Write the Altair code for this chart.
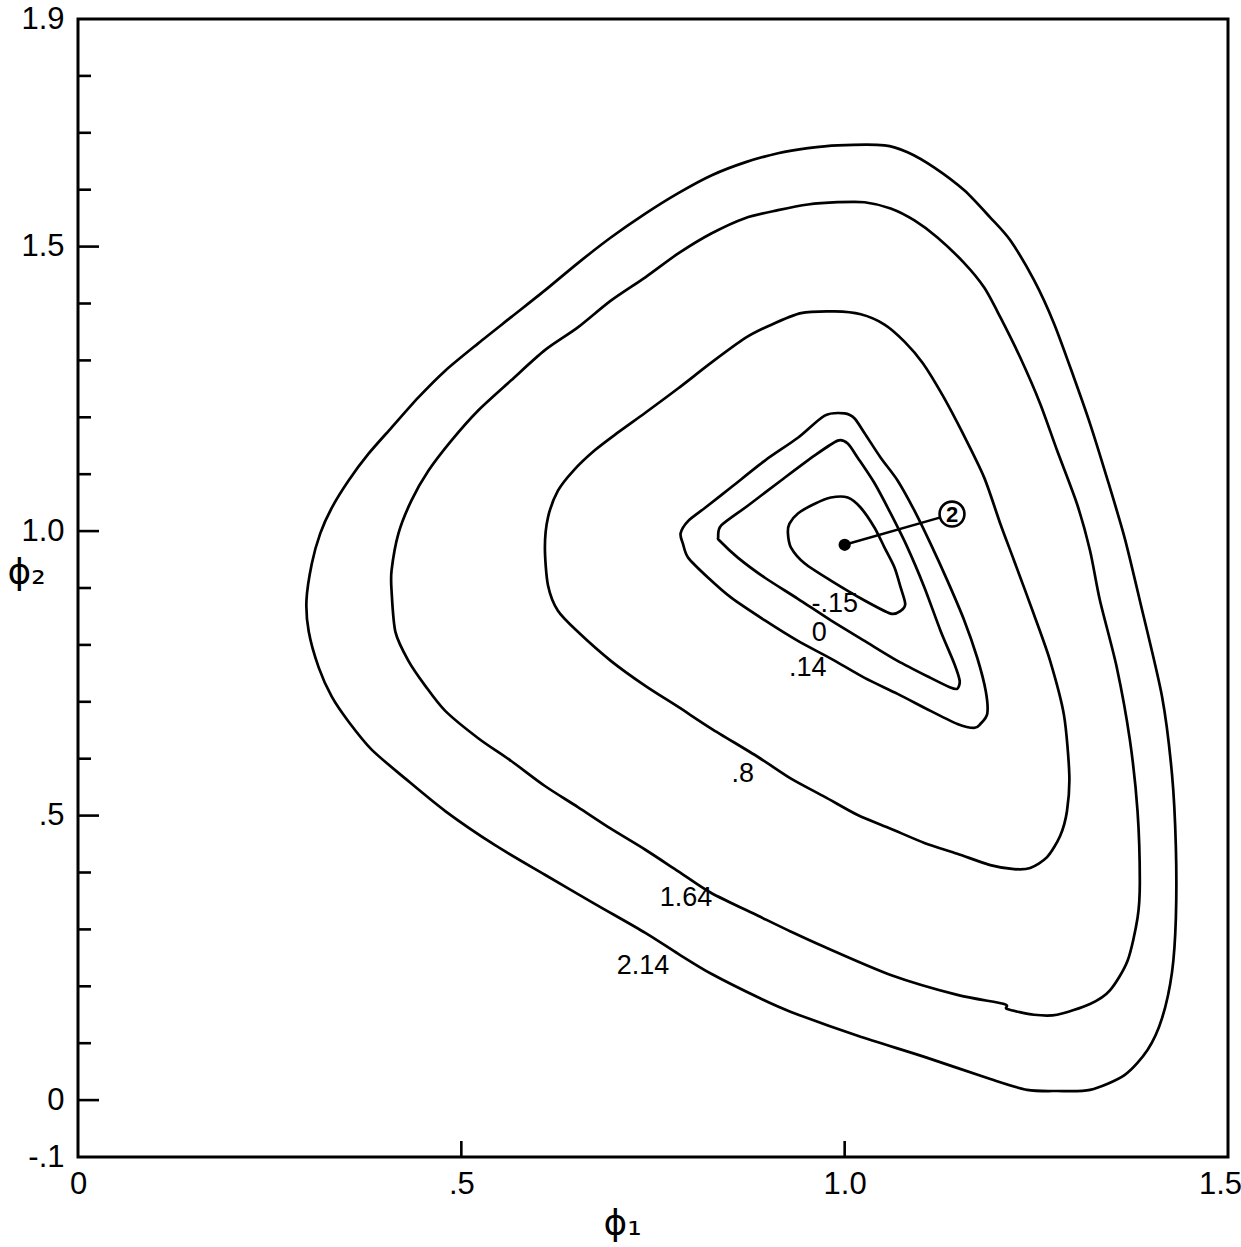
import altair as alt
import pandas as pd

# ---- contour outlines in (phi1, phi2), each traced as a closed loop ----
c214_x = [0.298, 0.305, 0.316, 0.331, 0.353, 0.379, 0.409, 0.444, 0.479, 0.522, 0.565, 0.609,
          0.652, 0.695, 0.740, 0.783, 0.826, 0.870, 0.913, 0.952, 0.991, 1.052, 1.082, 1.117,
          1.156, 1.190, 1.216, 1.247, 1.273, 1.299, 1.320, 1.342, 1.365, 1.385, 1.414, 1.427,
          1.432, 1.432, 1.427, 1.414, 1.395, 1.365, 1.320, 1.277, 1.238, 1.190, 1.104, 1.017,
          0.930, 0.891, 0.826, 0.783, 0.740, 0.674, 0.609, 0.544, 0.479, 0.427, 0.383, 0.353,
          0.331, 0.314, 0.301]
c214_y = [0.878, 0.943, 0.996, 1.041, 1.089, 1.136, 1.182, 1.235, 1.282, 1.330, 1.376, 1.423,
          1.471, 1.516, 1.558, 1.594, 1.625, 1.648, 1.664, 1.673, 1.678, 1.678, 1.666, 1.639,
          1.599, 1.551, 1.511, 1.441, 1.365, 1.270, 1.189, 1.094, 0.989, 0.878, 0.709, 0.572,
          0.445, 0.320, 0.225, 0.144, 0.088, 0.044, 0.018, 0.016, 0.018, 0.037, 0.076, 0.113,
          0.155, 0.178, 0.222, 0.257, 0.294, 0.345, 0.396, 0.448, 0.508, 0.565, 0.616, 0.665,
          0.709, 0.760, 0.823]

c164_x = [0.409, 0.409, 0.418, 0.435, 0.457, 0.487, 0.522, 0.565, 0.609, 0.652, 0.695, 0.740,
          0.783, 0.826, 0.870, 0.913, 0.952, 0.991, 1.026, 1.060, 1.091, 1.121, 1.156, 1.182,
          1.203, 1.229, 1.255, 1.277, 1.303, 1.320, 1.333, 1.355, 1.372, 1.382, 1.385, 1.382,
          1.369, 1.346, 1.320, 1.277, 1.247, 1.212, 1.208, 1.147, 1.060, 0.974, 0.930, 0.887,
          0.826, 0.783, 0.740, 0.695, 0.652, 0.609, 0.565, 0.522, 0.479, 0.453, 0.431, 0.414]
c164_y = [0.895, 0.931, 0.996, 1.054, 1.106, 1.159, 1.212, 1.265, 1.318, 1.358, 1.405, 1.446,
          1.488, 1.523, 1.550, 1.564, 1.574, 1.578, 1.578, 1.567, 1.546, 1.516, 1.471, 1.428,
          1.376, 1.305, 1.224, 1.142, 1.048, 0.966, 0.878, 0.760, 0.633, 0.508, 0.383, 0.320,
          0.245, 0.193, 0.169, 0.150, 0.150, 0.160, 0.169, 0.185, 0.220, 0.269, 0.296, 0.324,
          0.364, 0.402, 0.440, 0.477, 0.515, 0.552, 0.596, 0.636, 0.684, 0.728, 0.772, 0.823]

c08_x = [0.609, 0.613, 0.626, 0.646, 0.674, 0.704, 0.740, 0.783, 0.826, 0.870, 0.900, 0.943,
         0.987, 1.021, 1.052, 1.078, 1.102, 1.128, 1.154, 1.182, 1.203, 1.221, 1.247, 1.268,
         1.286, 1.293, 1.290, 1.281, 1.264, 1.242, 1.221, 1.190, 1.147, 1.104, 1.060, 1.017,
         0.974, 0.930, 0.887, 0.826, 0.783, 0.740, 0.695, 0.652, 0.626, 0.613]
c08_y = [0.971, 1.024, 1.071, 1.106, 1.142, 1.173, 1.208, 1.251, 1.296, 1.339, 1.360, 1.383,
         1.386, 1.381, 1.363, 1.333, 1.295, 1.238, 1.172, 1.094, 1.013, 0.948, 0.853, 0.772,
         0.677, 0.572, 0.508, 0.464, 0.427, 0.408, 0.406, 0.413, 0.433, 0.452, 0.477, 0.501,
         0.533, 0.565, 0.603, 0.653, 0.691, 0.728, 0.772, 0.823, 0.860, 0.905]

c014_x = [0.786, 0.796, 0.818, 0.852, 0.896, 0.939, 0.974, 1.000, 1.013, 1.026, 1.047, 1.069,
          1.091, 1.112, 1.134, 1.156, 1.173, 1.184, 1.186, 1.177, 1.169, 1.147, 1.112, 1.069,
          1.026, 0.982, 0.939, 0.896, 0.852, 0.822, 0.796, 0.789]
c014_y = [0.996, 1.018, 1.041, 1.077, 1.124, 1.164, 1.203, 1.207, 1.198, 1.172, 1.129, 1.089,
          1.036, 0.978, 0.913, 0.843, 0.777, 0.719, 0.679, 0.661, 0.654, 0.661, 0.684, 0.714,
          0.742, 0.776, 0.807, 0.843, 0.883, 0.918, 0.953, 0.978]

c0_x = [0.835, 0.839, 0.874, 0.917, 0.961, 0.991, 1.004, 1.017, 1.039, 1.060, 1.082, 1.104,
        1.125, 1.143, 1.150, 1.147, 1.138, 1.112, 1.069, 1.026, 0.982, 0.939, 0.896, 0.861,
        0.837]
c0_y = [0.989, 1.010, 1.045, 1.089, 1.133, 1.159, 1.154, 1.129, 1.084, 1.031, 0.971, 0.901,
        0.825, 0.767, 0.737, 0.723, 0.725, 0.742, 0.772, 0.807, 0.843, 0.881, 0.918, 0.953,
        0.983]

cm15_x = [0.928, 0.939, 0.961, 0.982, 1.004, 1.021, 1.039, 1.052, 1.065, 1.073, 1.079, 1.073,
          1.060, 1.026, 0.982, 0.948, 0.930, 0.926]
cm15_y = [1.013, 1.031, 1.048, 1.059, 1.059, 1.041, 1.006, 0.971, 0.936, 0.901, 0.872, 0.860,
          0.855, 0.878, 0.913, 0.943, 0.971, 0.996]

# ---- contour level labels ----
label_text = ["-.15", "0", ".14", ".8", "1.64", "2.14"]
label_x = [0.987, 0.967, 0.952, 0.867, 0.793, 0.737]
label_y = [0.872, 0.821, 0.760, 0.573, 0.355, 0.236]

# ---- minimum point and its call-out ----
min_x, min_y = [1.0], [0.976]
callout_x, callout_y = [1.140], [1.030]
callout_text = ["2"]

# ---- axis ticks and labels ----
x_tick_values = [0.0, 0.5, 1.0, 1.5]
x_tick_text = ["0", ".5", "1.0", "1.5"]
x_inner_ticks = [0.5, 1.0]
y_tick_values = [-0.1, 0.0, 0.5, 1.0, 1.5, 1.9]
y_tick_text = ["-.1", "0", ".5", "1.0", "1.5", "1.9"]
y_major_ticks = [0.0, 0.5, 1.0, 1.5]
y_minor_ticks = [0.1, 0.2, 0.3, 0.4, 0.6, 0.7, 0.8, 0.9, 1.1, 1.2, 1.3, 1.4, 1.6, 1.7, 1.8]

W, H = 1150, 1138
INK = "black"


def label_expr(vals, texts):
    parts = [f"abs(datum.value - ({v})) < 0.01 ? '{t}'" for v, t in zip(vals, texts)]
    return " : ".join(parts) + " : ''"


curves = [("2.14", c214_x, c214_y), ("1.64", c164_x, c164_y), (".8", c08_x, c08_y),
          (".14", c014_x, c014_y), ("0", c0_x, c0_y), ("-.15", cm15_x, cm15_y)]
rows = []
for name, xs, ys in curves:
    for i, (a, b) in enumerate(zip(xs, ys)):
        rows.append({"level": name, "i": i, "x": a, "y": b})
contours = pd.DataFrame(rows)

xscale = alt.Scale(domain=[0, 1.5], nice=False, zero=False)
yscale = alt.Scale(domain=[-0.1, 1.9], nice=False, zero=False)

xaxis = alt.Axis(
    values=x_tick_values, labelExpr=label_expr(x_tick_values, x_tick_text),
    ticks=False, domain=False, grid=False, labelFlush=False,
    labelFont="Liberation Sans", labelFontSize=31, labelColor=INK, labelPadding=12,
    labelOffset={"condition": {"test": "datum.value > 1.4", "value": -8}, "value": 0},
    title="ϕ₁", titleFont="DejaVu Sans", titleFontSize=36, titleFontWeight="normal",
    titleColor=INK, titleX=544, titleY=66, titleAlign="center", titleBaseline="middle",
)
yaxis = alt.Axis(
    values=y_tick_values, labelExpr=label_expr(y_tick_values, y_tick_text),
    ticks=False, domain=False, grid=False, labelFlush=False,
    labelFont="Liberation Sans", labelFontSize=31, labelColor=INK, labelPadding=14,
    title="ϕ₂", titleFont="DejaVu Sans", titleFontSize=36, titleFontWeight="normal",
    titleColor=INK, titleAngle=0, titleX=-52, titleY=553, titleAlign="center",
    titleBaseline="middle",
)


def X(field="x"):
    return alt.X(f"{field}:Q", scale=xscale, axis=xaxis)


def Y(field="y"):
    return alt.Y(f"{field}:Q", scale=yscale, axis=yaxis)


# closed smooth curves through the traced points
lines = alt.Chart(contours).mark_line(
    color=INK, strokeWidth=2.7, interpolate="cardinal-closed", tension=0.2
).encode(x=X(), y=Y(), detail="level:N", order="i:Q")

labels = alt.Chart(pd.DataFrame({"x": label_x, "y": label_y, "t": label_text})).mark_text(
    font="Liberation Sans", fontSize=27, color=INK, align="center", baseline="middle"
).encode(x=X(), y=Y(), text="t:N")

leader = alt.Chart(pd.DataFrame({"x": min_x + callout_x, "y": min_y + callout_y, "i": [0, 1]})).mark_line(
    color=INK, strokeWidth=2.4
).encode(x=X(), y=Y(), order="i:Q")

dot = alt.Chart(pd.DataFrame({"x": min_x, "y": min_y})).mark_point(
    shape="circle", filled=True, color=INK, size=150, opacity=1
).encode(x=X(), y=Y())

ring = alt.Chart(pd.DataFrame({"x": callout_x, "y": callout_y})).mark_point(
    shape="circle", filled=True, fill="white", stroke=INK, strokeWidth=2.6, size=620, opacity=1
).encode(x=X(), y=Y())

ring_text = alt.Chart(pd.DataFrame({"x": callout_x, "y": callout_y, "t": callout_text})).mark_text(
    font="Liberation Sans", fontSize=22, fontWeight="bold", color=INK, align="center",
    baseline="middle", dy=1
).encode(x=X(), y=Y(), text="t:N")

y_major = alt.Chart(pd.DataFrame({"y": y_major_ticks})).mark_rule(color=INK, strokeWidth=2.6).encode(
    y=Y(), x=alt.value(0), x2=alt.value(21)
)
y_minor = alt.Chart(pd.DataFrame({"y": y_minor_ticks})).mark_rule(color=INK, strokeWidth=2.6).encode(
    y=Y(), x=alt.value(0), x2=alt.value(13)
)
x_major = alt.Chart(pd.DataFrame({"x": x_inner_ticks})).mark_rule(color=INK, strokeWidth=2.6).encode(
    x=X(), y=alt.value(H), y2=alt.value(H - 16)
)

chart = alt.layer(lines, labels, leader, dot, ring, ring_text, y_major, y_minor, x_major).properties(
    width=W, height=H,
    autosize=alt.AutoSizeParams(type="none"),
    padding={"left": 78, "top": 19, "right": 13, "bottom": 90},
    background="white",
).configure_view(stroke=INK, strokeWidth=3)

chart.save("out.html", embed_options={"renderer": "svg", "actions": False})
